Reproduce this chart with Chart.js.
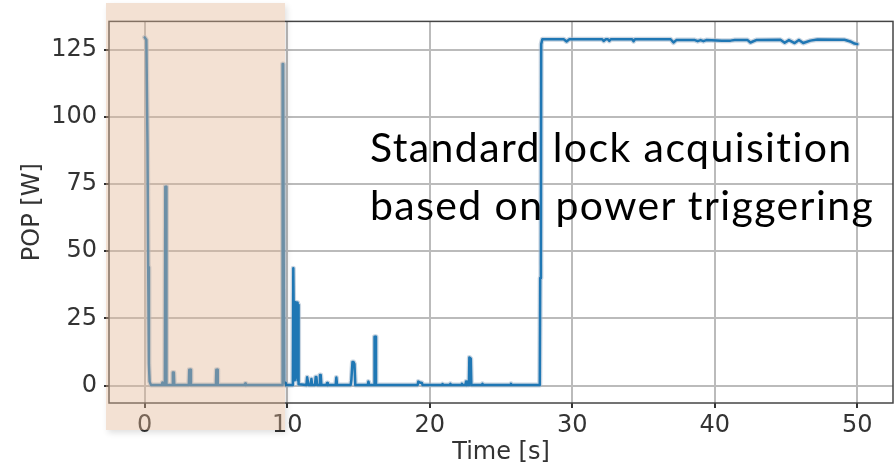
<!DOCTYPE html>
<html>
<head>
<meta charset="utf-8">
<script src="https://cdn.jsdelivr.net/npm/chart.js@4/dist/chart.umd.min.js"></script>
<style>
  body { margin: 0; background: #fff; }
  #wrap { position: relative; width: 895px; height: 469px; }
  #shade {
    position: absolute; left: 106px; top: 3px; width: 179px; height: 427px;
    background: rgba(226, 180, 146, 0.40);
    box-shadow: 2px 3px 6px rgba(0, 0, 0, 0.12);
    pointer-events: none;
  }
  #note {
    position: absolute; left: 370px; top: 118px;
    font-family: Lato, sans-serif; font-size: 41px; line-height: 58px;
    letter-spacing: 1.4px; color: #000; white-space: nowrap;
  }
</style>
</head>
<body>
<div id="wrap">
  <canvas id="myChart" width="895" height="469"></canvas>
  <div id="shade"></div>
  <div id="note">Standard lock acquisition<br>based on power triggering</div>
</div>
<script>
// time [s] and circulating power POP [W]
var times = [
  0, 0.12, 0.2, 0.25, 0.3, 0.35, 0.45,
  1.2, 1.25, 1.3, 1.42, 1.45, 1.5, 1.53,
  1.95, 1.98, 2.05, 2.08,
  3.1, 3.13, 3.22, 3.25,
  5.0, 5.03, 5.1, 5.13,
  7.0, 7.05, 7.1,
  9.65, 9.68, 9.72, 9.78, 9.85, 9.9,
  10.4, 10.43, 10.47, 10.5, 10.53, 10.57, 10.6, 10.63, 10.67, 10.7, 10.73, 10.76, 10.8,
  11.35, 11.4, 11.45, 11.5,
  11.65, 11.7, 11.75,
  11.95, 12.0, 12.05, 12.1,
  12.25, 12.3, 12.35, 12.4,
  12.75, 12.8, 12.85,
  13.4, 13.45, 13.5,
  14.45, 14.5, 14.58, 14.65, 14.72, 14.78,
  15.65, 15.7, 15.75,
  16.1, 16.13, 16.2, 16.23,
  19.15, 19.2, 19.3, 19.45, 19.5,
  20.85, 20.9, 20.95,
  21.4, 21.45, 21.5,
  22.2, 22.26, 22.3, 22.5, 22.55, 22.6,
  22.75, 22.78, 22.88, 22.92,
  23.65, 23.7, 23.75,
  25.65, 25.7, 25.75,
  27.72, 27.75, 27.8, 27.82, 27.9,
  29.4, 29.6, 29.8, 32.1, 32.2, 32.35, 32.5, 32.6, 32.7,
  34.2, 34.3, 34.4, 36.9, 37.1, 37.3, 38.6, 38.8, 39.0, 39.2, 39.4,
  40.5, 41.1, 41.4, 42.3, 42.5, 42.9, 44.6, 44.9, 45.2, 45.6, 45.9, 46.2,
  46.7, 47.2, 49.1, 49.5, 49.8, 50
];
var pop = [
  129.5, 128.6, 90, 44, 8, 1.5, 0.2,
  0.2, 1.2, 0.2, 0.2, 74, 74, 0.2,
  0.2, 4.9, 4.9, 0.2,
  0.2, 5.9, 5.9, 0.2,
  0.2, 5.9, 5.9, 0.2,
  0.2, 0.8, 0.2,
  0.2, 119.6, 119.6, 1.5, 1, 0.2,
  0.2, 43.7, 43.7, 2, 31.2, 31, 3, 30.5, 5, 30.8, 2, 30, 0.5,
  0.2, 3.1, 3.1, 0.2,
  0.2, 2.5, 0.2,
  0.2, 3.2, 3.2, 0.2,
  0.2, 4, 4, 0.2,
  0.2, 1, 0.2,
  0.2, 3, 0.2,
  0.2, 2, 8.8, 8.8, 8, 0.2,
  0.2, 1.5, 0.2,
  0.2, 18.2, 18.2, 0.2,
  0.2, 1.5, 1.2, 1, 0.2,
  0.2, 0.6, 0.2,
  0.2, 0.7, 0.2,
  0.2, 0.7, 0.2, 0.2, 1.5, 0.2,
  0.2, 10.5, 10, 0.2,
  0.2, 0.7, 0.2,
  0.2, 0.7, 0.2,
  0.2, 40, 45, 127, 128.8,
  128.8, 128, 128.8, 128.8, 128.2, 128.8, 128.8, 128.2, 128.8,
  128.8, 128.1, 128.8, 128.8, 127.6, 128.5, 128.5, 128.1, 128.5, 128.1, 128.5,
  128.3, 128.3, 128.5, 128.5, 127.6, 128.5, 128.6, 127.5, 128.5, 127.4, 128.5, 127.4,
  128.3, 128.7, 128.6, 128, 127.2, 127
];
var xTicks = [0, 10, 20, 30, 40, 50];
var yTicks = [0, 25, 50, 75, 100, 125];

var pts = [];
for (var i = 0; i < times.length; i++)
  pts.push({x: times[i], y: pop[i]});

// full frame around the plot, like the matplotlib spines
var frame = {
  id: 'frame',
  afterDraw: function(chart) {
    var a = chart.chartArea, c = chart.ctx;
    c.save();
    c.strokeStyle = '#444';
    c.lineWidth = 1.5;
    c.strokeRect(a.left, a.top, a.right - a.left, a.bottom - a.top);
    c.restore();
  }
};

var font = {family: 'DejaVu Sans', size: 24};

var ctx = document.getElementById("myChart");
var myChart = new Chart(ctx, {
  type: 'line',
  data: {
    datasets: [
      {
        data: pts,
        borderColor: '#1f77b4',
        borderWidth: 2.5,
        borderJoinStyle: 'round',
        borderCapStyle: 'round',
        pointRadius: 0,
        tension: 0,
        order: 1
      },
      {
        // soft light edge round the line
        data: pts,
        borderColor: 'rgba(165, 185, 205, 0.6)',
        borderWidth: 5,
        borderJoinStyle: 'round',
        borderCapStyle: 'round',
        pointRadius: 0,
        tension: 0,
        order: 2
      }
    ]
  },
  options: {
    responsive: false,
    animation: false,
    layout: {padding: {top: 20, right: 2, left: 0, bottom: 0}},
    plugins: {legend: {display: false}, tooltip: {enabled: false}},
    scales: {
      x: {
        type: 'linear',
        min: -2.5, max: 52.5,
        afterFit: function(s) { s.height = 66; },
        afterBuildTicks: function(s) { s.ticks = xTicks.map(function(v) { return {value: v}; }); },
        ticks: {font: font, color: '#333', padding: 3, maxRotation: 0},
        grid: {color: '#bbb', lineWidth: 2, tickColor: '#333', tickLength: 5},
        border: {display: false},
        title: {display: true, text: 'Time [s]', font: font, color: '#333', padding: {top: 0, bottom: 2}}
      },
      y: {
        min: -6.45, max: 135.45,
        afterFit: function(s) { s.width = 109; },
        afterBuildTicks: function(s) { s.ticks = yTicks.map(function(v) { return {value: v}; }); },
        ticks: {font: font, color: '#333', padding: 7},
        grid: {color: '#bbb', lineWidth: 2, tickColor: '#333', tickLength: 5},
        border: {display: false},
        title: {display: true, text: 'POP [W]', font: font, color: '#333', padding: {top: 18, bottom: 0}}
      }
    }
  },
  plugins: [frame]
});
</script>
</body>
</html>
